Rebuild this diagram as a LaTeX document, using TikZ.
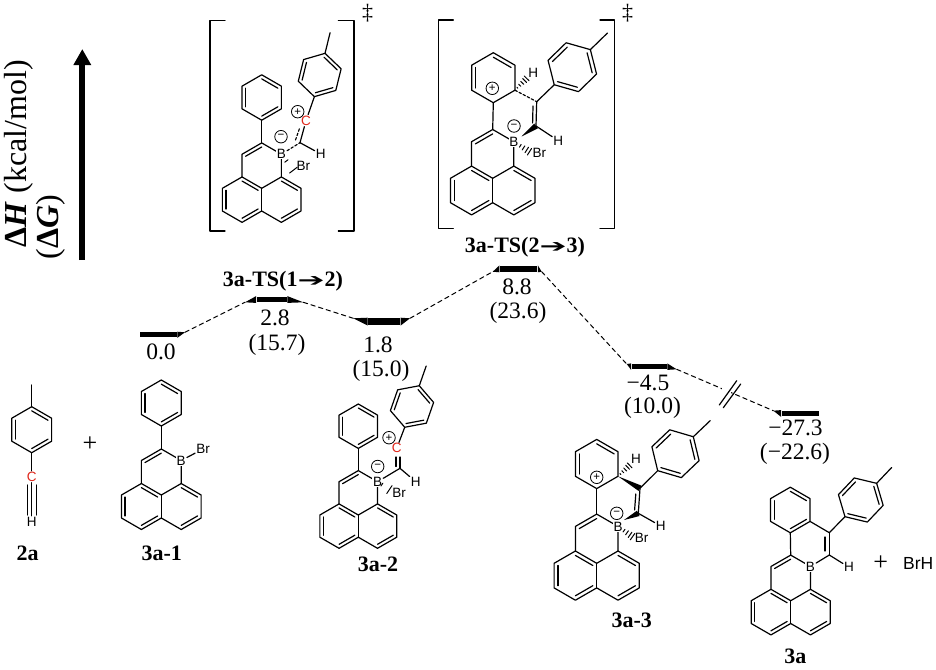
\documentclass[tikz,border=0pt]{standalone}
\usepackage{fontspec}
\usepackage{graphicx}
\setmainfont{Liberation Serif}
\setsansfont{Liberation Sans}
\newfontfamily\arrowfont{DejaVu Sans}
\usetikzlibrary{calc,arrows.meta}
\definecolor{cred}{HTML}{E0261A}
\newcommand{\tsarrow}{\scalebox{1.8}[1]{\arrowfont\bfseries\fontsize{18}{20}\selectfont ➔}}
\tikzset{
  atomlabel/.style={font=\sffamily\fontsize{13.5}{14}\selectfont,inner sep=.6pt,fill=white},
  redatom/.style={atomlabel,text=cred},
  chg/.style={circle,draw,line width=.8pt,minimum size=12.5pt,inner sep=0pt,font=\sffamily\fontsize{11.5}{12}\selectfont},
  val/.style={font=\fontsize{23.5}{25}\selectfont,inner sep=0pt},
  cpdlabel/.style={font=\bfseries\fontsize{22}{24}\selectfont,inner sep=0pt},
  axislabel/.style={font=\fontsize{32}{34}\selectfont,inner sep=0pt,rotate=90,anchor=base west},
  plussign/.style={font=\fontsize{26}{27}\selectfont,inner sep=0pt},
  dagger/.style={font=\fontsize{22}{24}\selectfont,inner sep=0pt},
  levelbar/.style={fill=black,inner sep=0pt,minimum height=#1},
  profile/.style={line width=1pt,dash pattern=on 4.5pt off 3.5pt},
  shortdash/.style={line width=1.15pt,dash pattern=on 2.6pt off 2pt},
  axisarrow/.style={line width=6pt,-{Triangle[width=16.7pt,length=16pt]}}
}
\newcommand{\dbl}[3]{\draw ($(#1)!.18!(#3)$) -- ($(#2)!.18!(#3)$);}
\newcommand{\hexring}[5]{%
  \begin{scope}[shift={(#2,#3)},rotate=#5,x=#4pt,y=-#4pt]
    \coordinate (#1O) at (0,0);
    \coordinate (#1M) at (0,-1);
    \coordinate (#1a) at (.866,-.5);
    \coordinate (#1b) at (.866,.5);
    \coordinate (#1A) at (0,1);
    \coordinate (#1c) at (-.866,.5);
    \coordinate (#1e) at (-.866,-.5);
    \coordinate (#1Me) at (0,-1.95);
    \draw (#1M)--(#1a)--(#1b)--(#1A)--(#1c)--(#1e)--cycle;
  \end{scope}
  \dbl{#1M}{#1a}{#1O}\dbl{#1c}{#1e}{#1O}}
\newcommand{\arene}[5]{\hexring{#1}{#2}{#3}{#4}{#5}\dbl{#1b}{#1A}{#1O}}
\newcommand{\tolyl}[5]{\arene{#1}{#2}{#3}{#4}{#5}\draw (#1M)--(#1Me);}
\newcommand{\coremol}[4]{%
  \begin{scope}[shift={(#2,#3)},x=#4pt,y=-#4pt]
    \coordinate (#1c0) at (0,0);
    \coordinate (#1c1) at (0,1);
    \coordinate (#1l1) at (-.866,-.5);
    \coordinate (#1l2) at (-1.732,0);
    \coordinate (#1l3) at (-1.732,1);
    \coordinate (#1l4) at (-.866,1.5);
    \coordinate (#1r1) at (.866,-.5);
    \coordinate (#1r2) at (1.732,0);
    \coordinate (#1r3) at (1.732,1);
    \coordinate (#1r4) at (.866,1.5);
    \coordinate (#1C3) at (-.866,-1.5);
    \coordinate (#1C2) at (0,-2);
    \coordinate (#1B) at (.866,-1.5);
    \coordinate (#1Lc) at (-.866,.5);
    \coordinate (#1Rc) at (.866,.5);
    \coordinate (#1Tc) at (0,-1);
    \draw (#1l1)--(#1l2)--(#1l3)--(#1l4)--(#1c1)--(#1r4)--(#1r3)--(#1r2)--(#1r1)--(#1c0)--(#1l1);
    \draw (#1c0)--(#1c1);
    \draw (#1l1)--(#1C3)--(#1C2)--(#1B)--(#1r1);
  \end{scope}
  \dbl{#1C3}{#1C2}{#1Tc}\dbl{#1l1}{#1c0}{#1Lc}\dbl{#1l2}{#1l3}{#1Lc}\dbl{#1l4}{#1c1}{#1Lc}%
  \dbl{#1r1}{#1r2}{#1Rc}\dbl{#1r3}{#1r4}{#1Rc}}
\newcommand{\bwedge}[3]{\fill (#1) -- ($(#2)!#3pt!90:(#1)$) -- ($(#2)!#3pt!-90:(#1)$) -- cycle;}
\newcommand{\hwedge}[4]{%
  \foreach \t in {#3} {%
    \coordinate (hw) at ($(#1)!\t!(#2)$);
    \pgfmathsetmacro\hwsize{\t*#4}
    \draw[line width=1pt] ($(hw)!\hwsize pt!90:(#2)$) -- ($(hw)!\hwsize pt!-90:(#2)$);
  }}
\newcommand{\chamfer}[3]{\fill (#1) -- (#2) -- (#3) -- cycle;}
\begin{document}
\begin{tikzpicture}[x=1pt,y=-1pt,line width=1.2pt,line join=round,line cap=round]
\path[use as bounding box] (0,0) rectangle (936,669);

% axis
\coordinate (axisfoot) at (82.3,260);
\coordinate (axistip) at (82.3,49);
\draw[axisarrow,line cap=butt] (axisfoot) -- (axistip);
\node[axislabel] (axisH) at (26,248) {\textbf{Δ\textit{H}} (kcal/mol)};
\node[axislabel] (axisG) at (58,260) {(\textbf{Δ\textit{G}})};

% energy levels
\node[levelbar=5pt,minimum width=36.7pt] (L0) at (158.35,334.8) {};
\coordinate (L0e) at (185,332.3);
\chamfer{L0e}{L0.north east}{L0.south east}
\node[levelbar=5.6pt,minimum width=30pt] (L1) at (271.7,299.5) {};
\coordinate (L1w) at (245,302.3);
\coordinate (L1e) at (303.3,302.3);
\chamfer{L1w}{L1.north west}{L1.south west}
\chamfer{L1e}{L1.north east}{L1.south east}
\node[levelbar=6.7pt,minimum width=31.7pt] (L2) at (384.15,321.65) {};
\coordinate (L2w) at (353.3,318.3);
\coordinate (L2e) at (410,318.3);
\chamfer{L2w}{L2.north west}{L2.south west}
\chamfer{L2e}{L2.north east}{L2.south east}
\node[levelbar=5.7pt,minimum width=37.3pt] (L3) at (518.65,268.85) {};
\coordinate (L3w) at (492.7,271.7);
\coordinate (L3e) at (541.7,271.7);
\chamfer{L3w}{L3.north west}{L3.south west}
\chamfer{L3e}{L3.north east}{L3.south east}
\node[levelbar=5.3pt,minimum width=35pt] (L4) at (649.2,366.65) {};
\coordinate (L4w) at (626.7,364);
\coordinate (L4e) at (676.7,369.3);
\chamfer{L4w}{L4.north west}{L4.south west}
\chamfer{L4e}{L4.north east}{L4.south east}
\node[levelbar=5.6pt,minimum width=37.3pt] (L5) at (800.35,413.5) {};
\coordinate (L5w) at (773.3,410.7);
\chamfer{L5w}{L5.north west}{L5.south west}
\draw[profile] (L0e) -- (L1w);
\draw[profile] (L1e) -- (L2w);
\draw[profile] (L2e) -- (L3w);
\draw[profile] (L3e) -- (L4w);
\draw[profile] (L4e) -- (L5w);
\coordinate (brk1a) at (719.3,405); \coordinate (brk1b) at (736.7,380.7);
\coordinate (brk2a) at (723.3,407.7); \coordinate (brk2b) at (740.7,384);
\fill[white] (721.5,399) rectangle (731,388);
\draw (brk1a) -- (brk1b);
\draw (brk2a) -- (brk2b);

% values
\node[val] (v0) at (161,351.5) {0.0};
\node[val] (v1a) at (275,318) {2.8};
\node[val] (v1b) at (277,345) {(15.7)};
\node[val] (v2a) at (378,344.5) {1.8};
\node[val] (v2b) at (381,371) {(15.0)};
\node[val] (v3a) at (517,287) {8.8};
\node[val] (v3b) at (518,313) {(23.6)};
\node[val] (v4a) at (648,382.5) {−4.5};
\node[val] (v4b) at (652.5,408) {(10.0)};
\node[val] (v5a) at (795.5,428) {−27.3};
\node[val] (v5b) at (795,453.5) {(−22.6)};

% compound labels
\node[cpdlabel] (lab2a) at (27.7,553) {2a};
\node[cpdlabel] (lab31) at (161.7,553) {3a-1};
\node[cpdlabel] (lab32) at (378,564) {3a-2};
\node[cpdlabel] (lab33) at (631.7,620.7) {3a-3};
\node[cpdlabel] (lab3a) at (795.3,656.7) {3a};
\node[cpdlabel] (labts1) at (283,281) {3a-TS(1\tsarrow 2)};
\node[cpdlabel] (labts2) at (525,247) {3a-TS(2\tsarrow 3)};
\node[plussign] (plusA) at (90,444) {+};
\node[plussign] (plusB) at (880.7,563.3) {+};
\node[font=\sffamily\fontsize{17.5}{19}\selectfont,inner sep=0pt] (brh) at (918.3,563.3) {BrH};

% 2a
\tolyl{ay}{31.7}{429.7}{23}{0}
\node[redatom] (ayC) at (31.7,476.7) {C};
\node[atomlabel] (ayH) at (31.7,521.7) {H};
\draw (ayA) -- (ayC);
\draw (ayC) -- (ayH);
\draw (27.2,485) -- (27.2,515);
\draw (36.2,485) -- (36.2,515);

% 3a-1
\coremol{ma}{161.3}{495}{23}
\arene{map}{161.3}{403}{23}{0}
\draw (maC2) -- (mapA);
\node[atomlabel] (maBl) at (maB) {B};
\node[atomlabel] (maBr) at (203,449) {Br};
\draw (maBl) -- (maBr);

% 3a-2
\coremol{mb}{358.3}{515}{22.2}
\arene{mbp}{358.3}{426.2}{22.2}{0}
\draw (mbC2) -- (mbpA);
\tolyl{mbt}{412}{406.5}{22}{-19.3}
\node[atomlabel] (mbBl) at (mbB) {B};
\node[redatom] (mbC) at (396.7,448.3) {C};
\node[atomlabel] (mbH) at (415.7,481.7) {H};
\node[atomlabel] (mbBr) at (399,492.7) {Br};
\node[chg] (mbplus) at (389,437.7) {+};
\node[chg] (mbminus) at (377.7,466.5) {−};
\coordinate (mbv) at (400,468.3);
\draw (mbBl) -- (mbv);
\draw (mbv) -- (mbH);
\draw (mbv) -- (400,457);
\draw (396,457) -- (396,466.5);
\draw (mbC) -- (mbtA);
\coordinate (mbhe) at (390,490);
\hwedge{mbB}{mbhe}{.35,.95}{5}

% TS(1-2)
\coremol{ta}{261.7}{188.3}{22.7}
\arene{tap}{261.7}{97.5}{22.7}{0}
\draw (taC2) -- (tapA);
\tolyl{tat}{319.7}{75}{22.3}{-13.8}
\node[atomlabel] (taBl) at (taB) {B};
\node[redatom] (taC) at (306,120.7) {C};
\node[atomlabel] (taH) at (320.7,154) {H};
\node[atomlabel] (taBr) at (303.3,165.7) {Br};
\node[chg] (taplus) at (297.7,111.7) {+};
\node[chg] (taminus) at (281,136.7) {−};
\coordinate (tav) at (300,142.7);
\draw (tav) -- (taC);
\draw[shortdash] (295.5,140) -- (300,127);
\draw (taC) -- (tatA);
\draw (tav) -- (taH);
\draw[shortdash] (taBl) -- (tav);
\coordinate (tahe) at (294,171);
\hwedge{taB}{tahe}{.4,.95}{5}
\draw (225,20.7) -- (210,20.7) -- (210,231) -- (225,231);
\draw (338.3,20.7) -- (354,20.7) -- (354,231) -- (338.3,231);
\node[dagger] (ddA) at (367.7,13) {‡};

% TS(2-3)
\coremol{tb}{492.7}{178.3}{24.4}
\hexring{tbu}{493.3}{77.7}{25}{0}
\draw (tbC2) -- (tbuA);
\tolyl{tbt}{572.3}{67.2}{25.2}{-45.8}
\node[atomlabel] (tbBl) at (tbB) {B};
\node[atomlabel] (tbH1) at (533.3,72.7) {H};
\node[atomlabel] (tbH2) at (558.3,140.7) {H};
\node[atomlabel] (tbBr) at (539.3,153.3) {Br};
\node[chg] (tbplus) at (492.3,88.3) {+};
\node[chg] (tbminus) at (514,126) {−};
\coordinate (tbv1) at (536.7,101.7);
\coordinate (tbv2) at (536,126);
\draw[shortdash] (tbub) -- (tbv1);
\draw (tbv1) -- (tbtA);
\draw (tbv1) -- (tbv2);
\draw (533,106) -- (532.6,123);
\coordinate (tbtip) at (521.5,136.5);
\bwedge{tbtip}{tbv2}{3}
\draw (tbv2) -- (tbH2);
\coordinate (tbhe1) at (527,78);
\hwedge{tbub}{tbhe1}{.2,.4,.6,.8,.97}{3.5}
\coordinate (tbhe2) at (530,152);
\hwedge{tbB}{tbhe2}{.4,.6,.8,.97}{4}
\draw (453.3,20) -- (438.3,20) -- (438.3,228.3) -- (453.3,228.3);
\draw (600,20) -- (614.3,20) -- (614.3,228.3) -- (600,228.3);
\node[dagger] (ddB) at (627.5,13) {‡};

% 3a-3
\coremol{mc}{596.7}{563.3}{24.6}
\hexring{mcu}{596.7}{464}{24.6}{0}
\draw (mcC2) -- (mcuA);
\tolyl{mct}{675.5}{453.7}{24.6}{-46.4}
\node[atomlabel] (mcBl) at (mcB) {B};
\node[atomlabel] (mcH1) at (636,459.3) {H};
\node[atomlabel] (mcH2) at (660.7,526) {H};
\node[atomlabel] (mcBr) at (641.7,538.3) {Br};
\node[chg] (mcplus) at (596.7,477.3) {+};
\node[chg] (mcminus) at (616.7,513.3) {−};
\coordinate (mcv1) at (640,488.3);
\coordinate (mcv2) at (638.3,513.3);
\bwedge{mcub}{mcv1}{3}
\draw (mcv1) -- (mctA);
\draw (mcv1) -- (mcv2);
\draw (635.8,494) -- (634.6,510);
\coordinate (mctip) at (624,520);
\bwedge{mctip}{mcv2}{3}
\draw (mcv2) -- (mcH2);
\coordinate (mche1) at (630,465);
\hwedge{mcub}{mche1}{.2,.4,.6,.8,.97}{3.5}
\coordinate (mche2) at (633,537);
\hwedge{mcB}{mche2}{.4,.6,.8,.97}{4}

% 3a
\coremol{md}{790.7}{600.7}{22.8}
\arene{mdu}{790.3}{510}{22.8}{0}
\draw (mdC2) -- (mduA);
\tolyl{mdt}{860.8}{500}{23}{-43.5}
\node[atomlabel] (mdBl) at (mdB) {B};
\node[atomlabel] (mdH) at (849,567.3) {H};
\coordinate (mdv1) at (829.3,532.7);
\coordinate (mdv2) at (829.3,555);
\draw (mdub) -- (mdv1);
\draw (mdv1) -- (mdtA);
\draw (mdv1) -- (mdv2);
\draw (825,537) -- (825,551);
\draw (mdv2) -- (mdBl);
\draw (mdv2) -- (mdH);
\end{tikzpicture}
\end{document}
